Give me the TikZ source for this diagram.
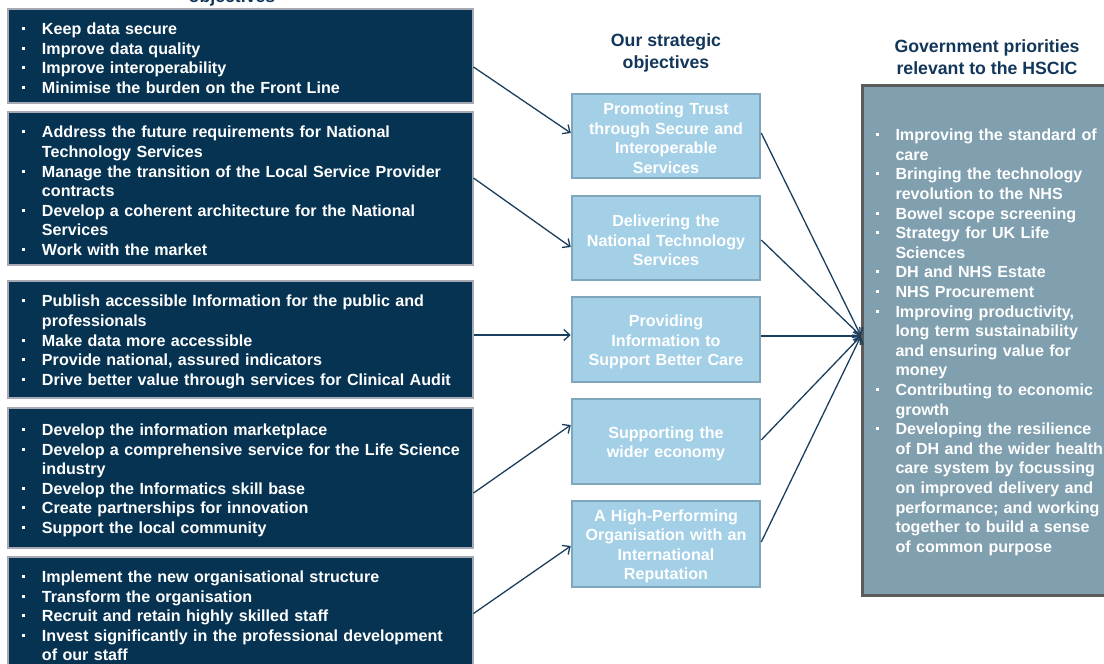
\documentclass[tikz,border=0pt]{standalone}
\usepackage{fontspec}
\setmainfont{Liberation Sans}
\usetikzlibrary{arrows.meta}
\definecolor{navy}{HTML}{063352}
\definecolor{leftborder}{HTML}{A7A9B4}
\definecolor{midfill}{HTML}{A3D0E7}
\definecolor{midborder}{HTML}{7FA6BB}
\definecolor{rightfill}{HTML}{809FAF}
\definecolor{rightborder}{HTML}{5B5B5B}
\definecolor{titlecol}{HTML}{12375A}
\definecolor{arrowcol}{HTML}{1A3E5C}
\newcommand\bul{\makebox[20pt][l]{\raisebox{0.28em}{\rule{3pt}{3pt}}}}
\newcommand\bl[1]{\bul\mbox{#1}}
\newcommand\cl[1]{\hspace*{20pt}\mbox{#1}}
\begin{document}
\begin{tikzpicture}[x=1pt,y=-1pt,
  txt/.style={font=\bfseries\fontsize{16.1}{19.6}\selectfont, execute at begin node={\rule{0pt}{16.5pt}}},
  leftbox/.style={txt, draw=leftborder, line width=2pt, fill=navy, text=white,
    minimum width=465pt, inner xsep=14.5pt, text width=436pt, align=left},
  midbox/.style={txt, draw=midborder, line width=2.5pt, fill=midfill, text=white,
    minimum width=188pt, text width=180pt, inner xsep=4pt, align=center},
  rightbox/.style={txt, draw=rightborder, line width=3pt, fill=rightfill, text=white,
    minimum width=268pt, inner xsep=13pt, text width=242pt, align=left},
  title/.style={font=\bfseries\fontsize{17.7}{21.5}\selectfont, text=titlecol, align=center},
  arr/.style={draw=arrowcol, line width=1.3pt, -{Straight Barb[length=6pt,width=11pt,line width=1.3pt]}}
]
\useasboundingbox (0,0) rectangle (1104,664);

% titles
\node[title, anchor=base] (t0) at (232,2.5) {objectives};
\node[title] (t1) at (666,53) {Our strategic\\objectives};
\node[title] (t2) at (987,57) {Government priorities\\relevant to the HSCIC};

% left boxes
\node[leftbox, minimum height=94pt] (l1) at (240,56) {%
\bl{Keep data secure}\\
\bl{Improve data quality}\\
\bl{Improve interoperability}\\
\bl{Minimise the burden on the Front Line}};
\node[leftbox, minimum height=153pt] (l2) at (240,188.5) {%
\bl{Address the future requirements for National}\\
\cl{Technology Services}\\
\bl{Manage the transition of the Local Service Provider}\\
\cl{contracts}\\
\bl{Develop a coherent architecture for the National}\\
\cl{Services}\\
\bl{Work with the market}};
\node[leftbox, minimum height=117pt] (l3) at (240,339.5) {%
\bl{Publish accessible Information for the public and}\\
\cl{professionals}\\
\bl{Make data more accessible}\\
\bl{Provide national, assured indicators}\\
\bl{Drive better value through services for Clinical Audit}};
\node[leftbox, minimum height=140pt] (l4) at (240,478) {%
\bl{Develop the information marketplace}\\
\bl{Develop a comprehensive service for the Life Science}\\
\cl{industry}\\
\bl{Develop the Informatics skill base}\\
\bl{Create partnerships for innovation}\\
\bl{Support the local community}};
\node[leftbox, minimum height=113pt] (l5) at (240,613.5) {%
\bl{Implement the new organisational structure}\\
\bl{Transform the organisation}\\
\bl{Recruit and retain highly skilled staff}\\
\bl{Invest significantly in the professional development}\\
\cl{of our staff}};

% middle boxes
\node[midbox, minimum height=84pt] (mA) at (666,136) {Promoting Trust\\through Secure and\\Interoperable\\Services};
\node[midbox, minimum height=84pt] (mB) at (666,238) {Delivering the\\National Technology\\Services};
\node[midbox, minimum height=85pt] (mC) at (666,339.5) {Providing\\Information to\\Support Better Care};
\node[midbox, minimum height=85pt] (mD) at (666,441.5) {Supporting the\\wider economy};
\node[midbox, minimum height=86pt] (mE) at (666,544) {A High-Performing\\Organisation with an\\International\\Reputation};

% right box
\node[rightbox, anchor=west, minimum height=510pt] (R) at (861,340) {%
\bl{Improving the standard of}\\
\cl{care}\\
\bl{Bringing the technology}\\
\cl{revolution to the NHS}\\
\bl{Bowel scope screening}\\
\bl{Strategy for UK Life}\\
\cl{Sciences}\\
\bl{DH and NHS Estate}\\
\bl{NHS Procurement}\\
\bl{Improving productivity,}\\
\cl{long term sustainability}\\
\cl{and ensuring value for}\\
\cl{money}\\
\bl{Contributing to economic}\\
\cl{growth}\\
\bl{Developing the resilience}\\
\cl{of DH and the wider health}\\
\cl{care system by focussing}\\
\cl{on improved delivery and}\\
\cl{performance; and working}\\
\cl{together to build a sense}\\
\cl{of common purpose}};

% arrows left -> middle
\draw[arr] ([yshift=-11pt]l1.east) -- ([yshift=3pt]mA.west);
\draw[arr] ([yshift=10.5pt]l2.east) -- ([yshift=-9pt]mB.west);
\draw[arr] ([yshift=4.5pt]l3.east) -- ([yshift=4.5pt]mC.west);
\draw[arr] ([yshift=-15pt]l4.east) -- ([yshift=16.5pt]mD.west);
\draw[arr] (l5.east) -- ([yshift=-2pt]mE.west);

% arrows middle -> right
\draw[arr] ([yshift=3pt]mA.east) -- ([yshift=4pt]R.west);
\draw[arr] ([yshift=-2pt]mB.east) -- ([yshift=4pt]R.west);
\draw[arr] ([yshift=3.5pt]mC.east) -- ([yshift=4pt]R.west);
\draw[arr] ([yshift=1.5pt]mD.east) -- ([yshift=4pt]R.west);
\draw[arr] ([yshift=2pt]mE.east) -- ([yshift=4pt]R.west);
\end{tikzpicture}
\end{document}
